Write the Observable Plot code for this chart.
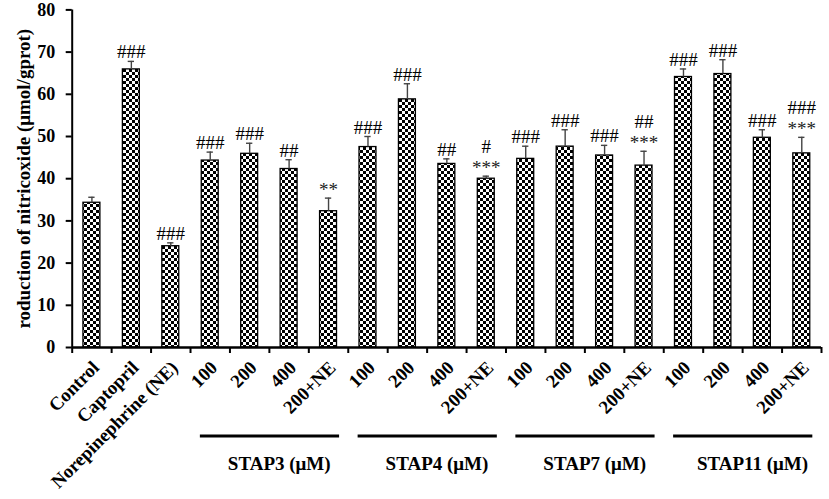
<!DOCTYPE html>
<html><head><meta charset="utf-8">
<script src="https://cdn.jsdelivr.net/npm/d3@7"></script>
<script src="https://cdn.jsdelivr.net/npm/@observablehq/plot@0.6"></script>
<style>body{margin:0;background:#fff;} svg{display:block;}</style>
</head><body><div id="chart"></div>
<script>
const categories = ["Control","Captopril","Norepinephrine (NE)","100","200","400","200+NE","100","200","400","200+NE","100","200","400","200+NE","100","200","400","200+NE"];
const means = [34.3,65.9,24.0,44.3,45.9,42.3,32.3,47.5,58.8,43.5,40.0,44.7,47.6,45.5,43.1,64.1,64.8,49.7,46.0];
const sems  = [1.3,1.9,0.8,2.0,2.5,2.2,3.1,2.5,3.7,1.2,0.6,3.0,4.0,2.4,3.4,1.9,3.4,1.9,3.8];
const hashes = ["","###","###","###","###","##","","###","###","##","#","###","###","###","##","###","###","###","###"];
const stars  = ["","","","","","","**","","","","***","","","","***","","","","***"];
const groupNames = ["STAP3 (μM)","STAP4 (μM)","STAP7 (μM)","STAP11 (μM)"];
const groupFirst = [3,7,11,15];
const groupLast  = [6,10,14,18];
const yTicks = [0,10,20,30,40,50,60,70,80];
const yTitle = "roduction of nitricoxide (μmol/gprot)";

const data = categories.map((c,i)=>({i, cat:c, mean:means[i], sem:sems[i], top:means[i]+sems[i], hash:hashes[i], star:stars[i]}));
const groups = groupNames.map((g,k)=>({name:g, first:groupFirst[k], last:groupLast[k]}));
const boundaries = d3.range(-0.5, categories.length, 1);

const font = "Liberation Serif, Times New Roman, serif";
const plot = Plot.plot({
  width: 829, height: 499,
  marginLeft: 71.7, marginRight: 8, marginTop: 9.4, marginBottom: 152,
  style: {fontFamily: font, background: "#fff", color: "#000"},
  x: {type: "linear", domain: [-0.5, categories.length - 0.5]},
  y: {domain: [0, 80]},
  marks: [
    Plot.rectY(data, {x1: d=>d.i-0.215, x2: d=>d.i+0.215, y: "mean", fill: "url(#checker)", stroke: "#000", strokeWidth: 1.3}),
    Plot.ruleX(data, {x: "i", y1: "mean", y2: "top", stroke: "#444", strokeWidth: 1.4}),
    Plot.ruleY(data, {y: "top", x1: d=>d.i-0.08, x2: d=>d.i+0.08, stroke: "#444", strokeWidth: 1.4}),
    Plot.text(data, {x: "i", y: "top", text: "star", dy: -2, lineAnchor: "bottom", fontSize: 19, fill: "#222"}),
    Plot.text(data.filter(d=>!d.star), {x: "i", y: "top", text: "hash", dy: -3, lineAnchor: "bottom", fontSize: 19}),
    Plot.text(data.filter(d=>d.star), {x: "i", y: "top", text: "hash", dy: -23, lineAnchor: "bottom", fontSize: 19}),
    Plot.axisY({ticks: yTicks, tickSize: 6, tickPadding: 11, fontSize: 18, fontWeight: "bold", strokeWidth: 2, label: null}),
    Plot.axisY({ticks: [], label: yTitle, labelAnchor: "center", labelArrow: "none", labelOffset: 56, fontSize: 19, fontWeight: "bold"}),
    Plot.axisX({ticks: boundaries, tickFormat: ()=>"", tickSize: 6, strokeWidth: 2, label: null}),
    Plot.ruleX([-0.5], {y1: 0, y2: 80, strokeWidth: 2}),
    Plot.ruleY([0], {x1: -0.5, x2: categories.length - 0.5, strokeWidth: 2.5}),
    Plot.text(data, {x: "i", y: 0, text: "cat", rotate: -45, textAnchor: "end", lineAnchor: "middle", dx: 4, dy: 17, fontSize: 18.8, fontWeight: "bold"}),
    Plot.ruleY(groups, {y: -21, x1: d=>d.first-0.25, x2: d=>d.last+0.28, strokeWidth: 3}),
    Plot.text(groups, {x: d=>(d.first+d.last)/2+0.25, y: -27.5, text: "name", fontSize: 19, fontWeight: "bold"})
  ]
});
plot.insertAdjacentHTML("afterbegin", '<defs><pattern id="checker" width="6" height="6" patternUnits="userSpaceOnUse"><rect width="6" height="6" fill="#fff"/><rect width="3" height="3" fill="#000"/><rect x="3" y="3" width="3" height="3" fill="#000"/></pattern></defs>');
document.getElementById("chart").appendChild(plot);
</script>
</body></html>
